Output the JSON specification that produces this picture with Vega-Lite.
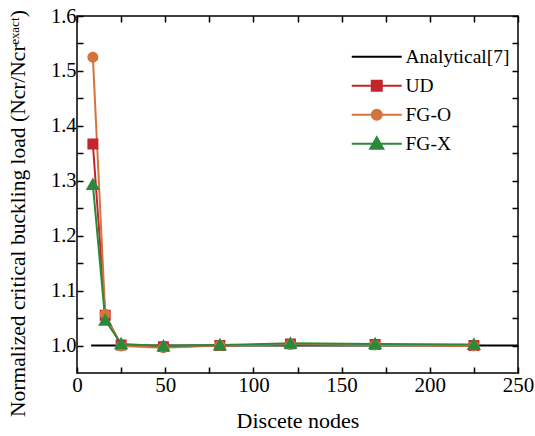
{
  "$schema": "https://vega.github.io/schema/vega-lite/v6.json",
  "width": 441,
  "height": 357,
  "autosize": "none",
  "padding": {"left": 77, "top": 16, "right": 17, "bottom": 63},
  "background": "white",
  "config": {
    "view": {"stroke": "black", "strokeWidth": 1.5},
    "font": "Liberation Serif, Times New Roman, DejaVu Serif, serif",
    "axis": {
      "labelFont": "Liberation Serif, Times New Roman, DejaVu Serif, serif",
      "labelFontSize": 20.5,
      "labelColor": "black",
      "labelFlush": false,
      "titleFont": "Liberation Serif, Times New Roman, DejaVu Serif, serif",
      "titleFontSize": 21.5,
      "titleFontWeight": "normal",
      "titleColor": "black",
      "tickColor": "black",
      "tickWidth": 1.5,
      "domain": false,
      "grid": false
    },
    "legend": {
      "labelFont": "Liberation Serif, Times New Roman, DejaVu Serif, serif",
      "labelFontSize": 19.5,
      "labelColor": "black"
    }
  },
  "data": {
    "values": [
      {"series": "Analytical[7]", "nodes": 8, "value": 1.0},
      {"series": "Analytical[7]", "nodes": 250, "value": 1.0},
      {"series": "UD", "nodes": 9, "value": 1.367},
      {"series": "UD", "nodes": 16, "value": 1.055},
      {"series": "UD", "nodes": 25, "value": 1.001},
      {"series": "UD", "nodes": 49, "value": 0.998},
      {"series": "UD", "nodes": 81, "value": 1.0},
      {"series": "UD", "nodes": 121, "value": 1.003},
      {"series": "UD", "nodes": 169, "value": 1.002},
      {"series": "UD", "nodes": 225, "value": 1.0},
      {"series": "FG-O", "nodes": 9, "value": 1.525},
      {"series": "FG-O", "nodes": 16, "value": 1.057},
      {"series": "FG-O", "nodes": 25, "value": 0.999},
      {"series": "FG-O", "nodes": 49, "value": 0.996},
      {"series": "FG-O", "nodes": 81, "value": 1.0},
      {"series": "FG-O", "nodes": 121, "value": 1.002},
      {"series": "FG-O", "nodes": 169, "value": 1.001},
      {"series": "FG-O", "nodes": 225, "value": 0.999},
      {"series": "FG-X", "nodes": 9, "value": 1.293},
      {"series": "FG-X", "nodes": 16, "value": 1.046},
      {"series": "FG-X", "nodes": 25, "value": 1.003},
      {"series": "FG-X", "nodes": 49, "value": 0.999},
      {"series": "FG-X", "nodes": 81, "value": 1.001},
      {"series": "FG-X", "nodes": 121, "value": 1.004},
      {"series": "FG-X", "nodes": 169, "value": 1.003},
      {"series": "FG-X", "nodes": 225, "value": 1.002}
    ]
  },
  "resolve": {"axis": {"x": "independent", "y": "independent"}},
  "layer": [
    {
      "mark": {"type": "line", "strokeWidth": 2},
      "encoding": {
        "x": {
          "field": "nodes", "type": "quantitative",
          "scale": {"domain": [0, 250], "nice": false},
          "axis": {
            "title": "Discete nodes",
            "titleFontSize": 22,
            "labelFontSize": 21,
            "values": [0, 25, 50, 75, 100, 125, 150, 175, 200, 225, 250],
            "labelExpr": "datum.value % 50 === 0 ? datum.label : ''",
            "tickSize": -6,
            "labelPadding": 7,
            "titlePadding": 15,
            "encode": {"ticks": {"y2": {"value": {"expr": "datum.value % 50 === 0 ? -7 : -4"}}}}
          }
        },
        "y": {
          "field": "value", "type": "quantitative",
          "scale": {"domain": [0.95, 1.6], "nice": false, "zero": false},
          "axis": {
            "title": "Normalized critical buckling load (Ncr/Ncrᵉˣᵃᶜᵗ)",
            "values": [1.0, 1.05, 1.1, 1.15, 1.2, 1.25, 1.3, 1.35, 1.4, 1.45, 1.5, 1.55, 1.6],
            "format": ".1f",
            "labelExpr": "round(datum.value * 100) % 10 === 0 ? datum.label : ''",
            "tickSize": -6,
            "labelPadding": 7,
            "titlePadding": 21,
            "titleY": 197,
            "encode": {"ticks": {"x2": {"value": {"expr": "round(datum.value * 100) % 10 === 0 ? 7 : 4"}}}}
          }
        },
        "stroke": {
          "field": "series", "type": "nominal",
          "scale": {
            "domain": ["Analytical[7]", "UD", "FG-O", "FG-X"],
            "range": ["#000000", "#c3242d", "#d2743c", "#2a8a3c"]
          },
          "legend": {
            "title": null,
            "orient": "none",
            "legendX": 290,
            "legendY": 31,
            "symbolSize": 100,
            "symbolStrokeWidth": 2,
            "labelOffset": 19,
            "rowPadding": 8,
            "labelLimit": 0
          }
        }
      }
    },
    {
      "transform": [{"filter": "datum.series !== 'Analytical[7]'"}],
      "mark": {"type": "point", "filled": true, "size": 120, "opacity": 1},
      "encoding": {
        "x": {"field": "nodes", "type": "quantitative", "axis": null},
        "y": {"field": "value", "type": "quantitative", "axis": null},
        "fill": {
          "field": "series", "type": "nominal",
          "scale": {
            "domain": ["Analytical[7]", "UD", "FG-O", "FG-X"],
            "range": ["transparent", "#c3242d", "#d2743c", "#2a8a3c"]
          },
          "legend": {"title": null, "orient": "none", "legendX": 290, "legendY": 31}
        },
        "shape": {
          "field": "series", "type": "nominal",
          "scale": {
            "domain": ["Analytical[7]", "UD", "FG-O", "FG-X"],
            "range": [
              "M-5,0H5",
              "M-5,0H5M-1,-1H1V1H-1Z",
              "M-5,0H5M-1,0A1,1,0,1,0,1,0A1,1,0,1,0,-1,0Z",
              "M-5,0H5M0,-1.3L1.3,1L-1.3,1Z"
            ]
          },
          "legend": {"title": null, "orient": "none", "legendX": 290, "legendY": 31}
        }
      }
    },
    {
      "mark": {"type": "point", "opacity": 0},
      "encoding": {
        "x": {
          "field": "nodes", "type": "quantitative",
          "axis": {
            "orient": "top", "title": null, "labels": false,
            "values": [0, 25, 50, 75, 100, 125, 150, 175, 200, 225, 250],
            "tickSize": -6,
            "encode": {"ticks": {"y2": {"value": {"expr": "datum.value % 50 === 0 ? 7 : 4"}}}}
          }
        },
        "y": {
          "field": "value", "type": "quantitative",
          "axis": {
            "orient": "right", "title": null, "labels": false,
            "values": [1.0, 1.05, 1.1, 1.15, 1.2, 1.25, 1.3, 1.35, 1.4, 1.45, 1.5, 1.55, 1.6],
            "tickSize": -6,
            "encode": {"ticks": {"x2": {"value": {"expr": "round(datum.value * 100) % 10 === 0 ? -7 : -4"}}}}
          }
        }
      }
    }
  ]
}
